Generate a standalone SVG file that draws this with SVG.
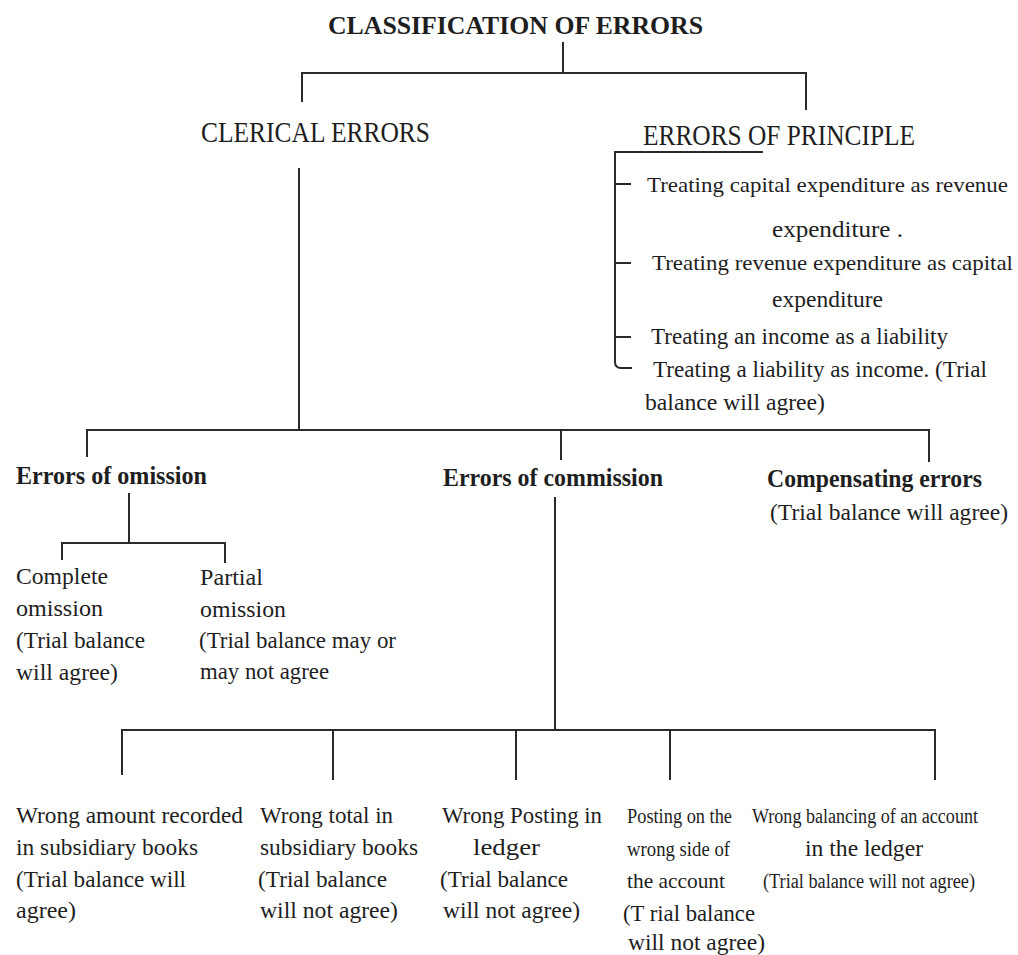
<svg xmlns="http://www.w3.org/2000/svg" width="1018" height="955" viewBox="0 0 1018 955">
<style>
text{font-family:"Liberation Serif","Times New Roman",serif;fill:#1e1e1e}
.t{font-size:26px;font-weight:bold}
.h{font-size:30px}
.b{font-size:25px;font-weight:bold}
.n{font-size:24px}
.m{font-size:22px}
.s{font-size:20px}
.c line,.c path{stroke:#2a2a2a;stroke-width:2;fill:none}
</style>
<rect width="1018" height="955" fill="#ffffff"/>
<g class="c" id="connectors">
<line x1="563" y1="42" x2="563" y2="73"/>
<line x1="301" y1="73" x2="807" y2="73"/>
<line x1="302" y1="73" x2="302" y2="102"/>
<line x1="806" y1="73" x2="806" y2="110"/>
<line x1="299" y1="168" x2="299" y2="430"/>
<line x1="86" y1="430" x2="930" y2="430"/>
<line x1="87" y1="430" x2="87" y2="457"/>
<line x1="561" y1="430" x2="561" y2="460"/>
<line x1="929" y1="430" x2="929" y2="462"/>
<line x1="129" y1="493" x2="129" y2="543"/>
<line x1="61" y1="543" x2="226" y2="543"/>
<line x1="62" y1="543" x2="62" y2="560"/>
<line x1="225" y1="543" x2="225" y2="563"/>
<line x1="555" y1="497" x2="555" y2="730"/>
<line x1="121" y1="730" x2="936" y2="730"/>
<line x1="122" y1="730" x2="122" y2="775"/>
<line x1="333" y1="730" x2="333" y2="780"/>
<line x1="516" y1="730" x2="516" y2="780"/>
<line x1="670" y1="730" x2="670" y2="780"/>
<line x1="935" y1="730" x2="935" y2="780"/>
<path d="M763 152 H615 V362 Q615 368 621 368 H632"/>
<line x1="615" y1="184" x2="631" y2="184"/>
<line x1="615" y1="263" x2="631" y2="263"/>
<line x1="615" y1="337" x2="631" y2="337"/>
</g>
<g id="title"><text class="t" x="328" y="34" textLength="375" lengthAdjust="spacingAndGlyphs">CLASSIFICATION OF ERRORS</text></g>
<g id="clerical"><text class="h" x="201" y="142" textLength="229" lengthAdjust="spacingAndGlyphs">CLERICAL ERRORS</text></g>
<g id="principle">
<text class="h" x="643" y="145" textLength="272" lengthAdjust="spacingAndGlyphs">ERRORS OF PRINCIPLE</text>
<text class="m" x="647" y="192" textLength="361" lengthAdjust="spacingAndGlyphs">Treating capital expenditure as revenue</text>
<text class="n" x="772" y="237" textLength="131" lengthAdjust="spacingAndGlyphs">expenditure .</text>
<text class="m" x="652" y="270" textLength="361" lengthAdjust="spacingAndGlyphs">Treating revenue expenditure as capital</text>
<text class="n" x="772" y="307" textLength="111" lengthAdjust="spacingAndGlyphs">expenditure</text>
<text class="n" x="651" y="344" textLength="297" lengthAdjust="spacingAndGlyphs">Treating an income as a liability</text>
<text class="n" x="653" y="377" textLength="334" lengthAdjust="spacingAndGlyphs">Treating a liability as income. (Trial</text>
<text class="n" x="645" y="410" textLength="180" lengthAdjust="spacingAndGlyphs">balance will agree)</text>
</g>
<g id="omission"><text class="b" x="16" y="484" textLength="191" lengthAdjust="spacingAndGlyphs">Errors of omission</text></g>
<g id="commission"><text class="b" x="443" y="486" textLength="220" lengthAdjust="spacingAndGlyphs">Errors of commission</text></g>
<g id="compensating">
<text class="b" x="767" y="487" textLength="215" lengthAdjust="spacingAndGlyphs">Compensating errors</text>
<text class="n" x="770" y="520" textLength="238" lengthAdjust="spacingAndGlyphs">(Trial balance will agree)</text>
</g>
<g id="complete-omission">
<text class="n" x="16" y="584" textLength="92" lengthAdjust="spacingAndGlyphs">Complete</text>
<text class="n" x="16" y="616" textLength="87" lengthAdjust="spacingAndGlyphs">omission</text>
<text class="n" x="16" y="648" textLength="129" lengthAdjust="spacingAndGlyphs">(Trial balance</text>
<text class="n" x="16" y="680" textLength="102" lengthAdjust="spacingAndGlyphs">will agree)</text>
</g>
<g id="partial-omission">
<text class="n" x="200" y="585" textLength="63" lengthAdjust="spacingAndGlyphs">Partial</text>
<text class="n" x="200" y="617" textLength="86" lengthAdjust="spacingAndGlyphs">omission</text>
<text class="n" x="199" y="648" textLength="197" lengthAdjust="spacingAndGlyphs">(Trial balance may or</text>
<text class="n" x="200" y="679" textLength="129" lengthAdjust="spacingAndGlyphs">may not agree</text>
</g>
<g id="wrong-amount">
<text class="n" x="16" y="823" textLength="227" lengthAdjust="spacingAndGlyphs">Wrong amount recorded</text>
<text class="n" x="16" y="855" textLength="182" lengthAdjust="spacingAndGlyphs">in subsidiary books</text>
<text class="n" x="16" y="887" textLength="170" lengthAdjust="spacingAndGlyphs">(Trial balance will</text>
<text class="n" x="16" y="918" textLength="60" lengthAdjust="spacingAndGlyphs">agree)</text>
</g>
<g id="wrong-total">
<text class="n" x="260" y="823" textLength="133" lengthAdjust="spacingAndGlyphs">Wrong total in</text>
<text class="n" x="260" y="855" textLength="158" lengthAdjust="spacingAndGlyphs">subsidiary books</text>
<text class="n" x="258" y="887" textLength="129" lengthAdjust="spacingAndGlyphs">(Trial balance</text>
<text class="n" x="260" y="918" textLength="138" lengthAdjust="spacingAndGlyphs">will not agree)</text>
</g>
<g id="wrong-posting">
<text class="n" x="442" y="823" textLength="160" lengthAdjust="spacingAndGlyphs">Wrong Posting in</text>
<text class="n" x="473" y="855" textLength="67" lengthAdjust="spacingAndGlyphs">ledger</text>
<text class="n" x="440" y="887" textLength="128" lengthAdjust="spacingAndGlyphs">(Trial balance</text>
<text class="n" x="443" y="918" textLength="137" lengthAdjust="spacingAndGlyphs">will not agree)</text>
</g>
<g id="wrong-side">
<text class="m" x="627" y="823" textLength="105" lengthAdjust="spacingAndGlyphs">Posting on the</text>
<text class="m" x="627" y="856" textLength="103" lengthAdjust="spacingAndGlyphs">wrong side of</text>
<text class="m" x="627" y="888" textLength="98" lengthAdjust="spacingAndGlyphs">the account</text>
<text class="n" x="623" y="921" textLength="132" lengthAdjust="spacingAndGlyphs">(T rial balance</text>
<text class="n" x="628" y="950" textLength="137" lengthAdjust="spacingAndGlyphs">will not agree)</text>
</g>
<g id="wrong-balancing">
<text class="s" x="752" y="823" textLength="226" lengthAdjust="spacingAndGlyphs">Wrong balancing of an account</text>
<text class="n" x="805" y="856" textLength="118" lengthAdjust="spacingAndGlyphs">in the ledger</text>
<text class="s" x="763" y="888" textLength="212" lengthAdjust="spacingAndGlyphs">(Trial balance will not agree)</text>
</g>
</svg>
